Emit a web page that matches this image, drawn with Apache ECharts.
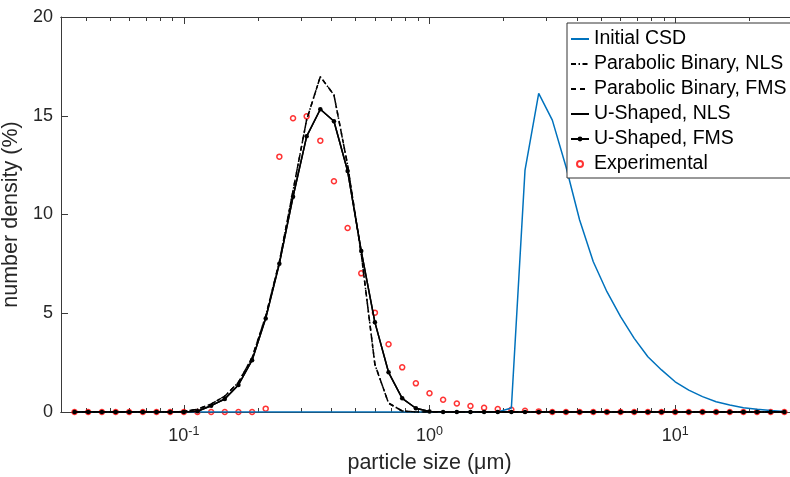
<!DOCTYPE html>
<html lang="en">
<head>
    <meta charset="UTF-8">
    <script src="https://cdn.jsdelivr.net/npm/echarts@6/dist/echarts.min.js"></script>
    <title>Particle size distribution</title>
    <style>
        body { margin: 0; background: #fff; }
    </style>
</head>
<body>
    <div id="main" style="width: 790px;height:477px;"></div>
    <script type="text/javascript">

        // particle sizes (um), same grid for every curve
        const sizes = [0.0359, 0.0408, 0.0464, 0.0528, 0.0599, 0.0681, 0.0774, 0.0880, 0.1, 0.1136,
            0.1292, 0.1468, 0.1668, 0.1896, 0.2154, 0.2448, 0.2783, 0.3162, 0.3594, 0.4084,
            0.4642, 0.5275, 0.5995, 0.6813, 0.7743, 0.8799, 1, 1.136, 1.292, 1.468,
            1.668, 1.896, 2.154, 2.448, 2.783, 3.162, 3.594, 4.084, 4.642, 5.275,
            5.995, 6.813, 7.743, 8.799, 10, 11.36, 12.92, 14.68, 16.68, 18.96,
            21.54, 24.48, 27.83];

        const initialCSD = [0, 0, 0, 0, 0, 0, 0, 0, 0, 0,
            0, 0, 0, 0, 0, 0, 0, 0, 0, 0,
            0, 0, 0, 0, 0, 0, 0, 0, 0, 0,
            0, 0, 0.2, 12.25, 16.13, 14.78, 12.42, 9.72, 7.61, 6.09,
            4.83, 3.73, 2.80, 2.13, 1.53, 1.11, 0.78, 0.52, 0.35, 0.22,
            0.14, 0.07, 0.03];

        const parabolicNLS = [0, 0, 0, 0, 0, 0, 0, 0, 0.03, 0.14,
            0.4, 0.8, 1.5, 2.75, 4.85, 7.6, 11.2, 14.8, 16.98, 16.05,
            12.5, 8.0, 2.4, 0.45, 0.05, 0, 0, 0, 0, 0,
            0, 0, 0, 0, 0, 0, 0, 0, 0, 0,
            0, 0, 0, 0, 0, 0, 0, 0, 0, 0,
            0, 0, 0];

        const parabolicFMS = [0, 0, 0, 0, 0, 0, 0, 0, 0.03, 0.14,
            0.4, 0.8, 1.5, 2.75, 4.85, 7.6, 11.2, 14.8, 16.98, 16.05,
            12.5, 8.0, 2.4, 0.45, 0.05, 0, 0, 0, 0, 0,
            0, 0, 0, 0, 0, 0, 0, 0, 0, 0,
            0, 0, 0, 0, 0, 0, 0, 0, 0, 0,
            0, 0, 0];

        const uShapedNLS = [0, 0, 0, 0, 0, 0, 0, 0, 0, 0.04,
            0.32, 0.66, 1.37, 2.62, 4.74, 7.51, 10.9, 13.96, 15.33, 14.72,
            12.2, 8.15, 4.54, 2.01, 0.69, 0.19, 0.03, 0, 0, 0,
            0, 0, 0, 0, 0, 0, 0, 0, 0, 0,
            0, 0, 0, 0, 0, 0, 0, 0, 0, 0,
            0, 0, 0];

        const uShapedFMS = [0, 0, 0, 0, 0, 0, 0, 0, 0, 0.04,
            0.32, 0.66, 1.37, 2.62, 4.74, 7.51, 10.9, 13.96, 15.33, 14.72,
            12.2, 8.15, 4.54, 2.01, 0.69, 0.19, 0.03, 0, 0, 0,
            0, 0, 0, 0, 0, 0, 0, 0, 0, 0,
            0, 0, 0, 0, 0, 0, 0, 0, 0, 0,
            0, 0, 0];

        const experimental = [0, 0, 0, 0, 0, 0, 0, 0, 0, 0,
            0, 0, 0, 0, 0.17, 12.93, 14.87, 14.97, 13.74, 11.68,
            9.32, 7.02, 5.03, 3.43, 2.26, 1.45, 0.95, 0.62, 0.43, 0.30,
            0.21, 0.15, 0.11, 0.06, 0.03, 0, 0, 0, 0, 0,
            0, 0, 0, 0, 0, 0, 0, 0, 0, 0,
            0, 0, 0];

        // tick positions on the log axis
        const majorTicks = [0.1, 1, 10];
        const minorTicks = [0.04, 0.05, 0.06, 0.07, 0.08, 0.09,
            0.2, 0.3, 0.4, 0.5, 0.6, 0.7, 0.8, 0.9,
            2, 3, 4, 5, 6, 7, 8, 9, 20, 30];
        const yTicks = [0, 5, 10, 15, 20];

        const font = 'Liberation Sans';
        const txt = '#262626';
        const axisCol = '#3a3a3a';
        const xMin = 0.031623, xMax = 31.623;

        const pairs = (ys) => sizes.map((s, i) => [s, ys[i]]);

        // helper for the extra tick-only axes (minor ticks / top box edge)
        function tickAxis(position, values, len) {
            return {
                type: 'log', logBase: 10, position: position, min: xMin, max: xMax,
                axisLine: { show: true, onZero: false, lineStyle: { color: axisCol, width: 1 } },
                axisTick: { show: true, inside: true, length: len, customValues: values,
                    lineStyle: { color: axisCol, width: 1 } },
                axisLabel: { show: false },
                splitLine: { show: false }
            };
        }

        // line series have no symbol, so hide the dot echarts puts in their legend icon
        const noDot = { color: 'rgba(0,0,0,0)', borderWidth: 0, opacity: 0 };

        let myChart = echarts.init(document.getElementById('main'), null, { renderer: 'canvas' });

        let options = {
            animation: false,
            backgroundColor: '#fff',
            grid: { left: 61, top: 17, right: -8, bottom: 65, outerBoundsMode: 'none' },
            legend: {
                orient: 'vertical',
                left: 567, top: 23,
                padding: [6, 10, 4, 3],
                itemGap: 5,
                itemWidth: 18, itemHeight: 6,
                backgroundColor: '#fff',
                borderColor: '#333', borderWidth: 1, borderRadius: 0,
                textStyle: { fontFamily: font, fontSize: 19.5, lineHeight: 19, color: '#000' },
                data: [
                    { name: 'Initial CSD', itemStyle: noDot },
                    { name: 'Parabolic Binary, NLS', itemStyle: noDot },
                    { name: 'Parabolic Binary, FMS', itemStyle: noDot },
                    { name: 'U-Shaped, NLS', itemStyle: noDot },
                    { name: 'U-Shaped, FMS' },
                    { name: 'Experimental' }
                ]
            },
            xAxis: [
                {
                    type: 'log', logBase: 10, min: xMin, max: xMax, position: 'bottom',
                    name: 'particle size (\u03bcm)',
                    nameLocation: 'middle', nameGap: 40,
                    nameTextStyle: { fontFamily: font, fontSize: 21.5, color: txt },
                    axisLine: { show: true, onZero: false, lineStyle: { color: axisCol, width: 1 } },
                    axisTick: { show: true, inside: true, length: 7, customValues: majorTicks,
                        lineStyle: { color: axisCol, width: 1 } },
                    axisLabel: {
                        customValues: majorTicks,
                        margin: 13,
                        formatter: function (v) {
                            let e = Math.round(Math.log10(v));
                            return '{b|10}{s|' + e + '}';
                        },
                        rich: {
                            b: { fontFamily: font, fontSize: 18, lineHeight: 22, color: txt },
                            s: { fontFamily: font, fontSize: 12.5, lineHeight: 12, verticalAlign: 'top', color: txt }
                        }
                    },
                    splitLine: { show: false }
                },
                tickAxis('bottom', minorTicks, 4),
                tickAxis('top', majorTicks, 7),
                tickAxis('top', minorTicks, 4)
            ],
            yAxis: {
                type: 'value', min: 0, max: 20, interval: 5,
                name: 'number density (%)',
                nameLocation: 'middle', nameGap: 21,
                nameTextStyle: { fontFamily: font, fontSize: 21.5, color: txt },
                axisLine: { show: true, onZero: false, lineStyle: { color: axisCol, width: 1 } },
                axisTick: { show: true, inside: true, length: 7, lineStyle: { color: axisCol, width: 1 } },
                axisLabel: { margin: 8, fontFamily: font, fontSize: 18, color: txt,
                    customValues: yTicks },
                splitLine: { show: false }
            },
            series: [
                {
                    name: 'Initial CSD', type: 'line', data: pairs(initialCSD),
                    symbol: 'none', color: '#0072BD',
                    lineStyle: { color: '#0072BD', width: 1.5 }
                },
                {
                    name: 'Parabolic Binary, NLS', type: 'line', data: pairs(parabolicNLS),
                    symbol: 'none', color: '#000',
                    lineStyle: { color: '#000', width: 1.5, type: [5, 2.5, 1.5, 2.5] }
                },
                {
                    name: 'Parabolic Binary, FMS', type: 'line', data: pairs(parabolicFMS),
                    symbol: 'none', color: '#000',
                    lineStyle: { color: '#000', width: 1.5, type: [5, 4] }
                },
                {
                    name: 'U-Shaped, NLS', type: 'line', data: pairs(uShapedNLS),
                    symbol: 'none', color: '#000',
                    lineStyle: { color: '#000', width: 1.5 }
                },
                {
                    name: 'U-Shaped, FMS', type: 'line', data: pairs(uShapedFMS),
                    symbol: 'circle', symbolSize: 4.5, showSymbol: true, color: '#000',
                    itemStyle: { color: '#000' },
                    lineStyle: { color: '#000', width: 1.5 }
                },
                {
                    name: 'Experimental', type: 'scatter', data: pairs(experimental),
                    symbol: 'circle', symbolSize: 5,
                    itemStyle: { color: 'rgba(255,255,255,0)', borderColor: '#ff0000', borderWidth: 1.5 }
                }
            ]
        };

        myChart.setOption(options);
    </script>
</body>
</html>
